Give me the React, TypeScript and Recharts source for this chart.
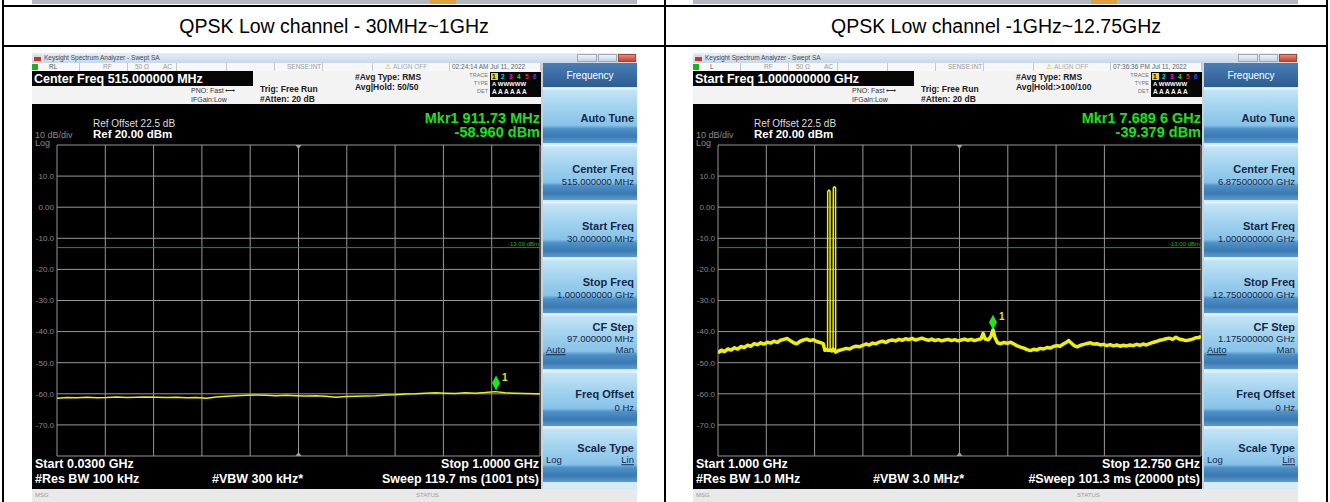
import React from 'react';
import { LineChart, Line, XAxis, YAxis, CartesianGrid, ReferenceLine, ReferenceDot } from 'recharts';

// ---- data ----
const lowFreqMHz = [
  30, 50, 70, 90, 110, 130, 150, 170, 190, 210, 230, 250, 270, 290, 310, 330, 350, 370, 390, 410,
  430, 450, 470, 490, 510, 530, 550, 570, 590, 610, 630, 650, 670, 690, 710, 730, 750, 770, 790, 810,
  830, 850, 870, 890, 910, 930, 950, 970, 990, 1000,
];
const lowLevelDbm = [
  -61.4, -61.2, -61.3, -61.1, -61.3, -61.2, -61.0, -61.2, -61.1, -61.0, -61.1, -61.2, -61.1, -61.3, -61.2, -61.4, -61.0, -60.8, -60.6, -60.5,
  -60.4, -60.5, -60.6, -60.5, -60.6, -60.7, -60.6, -60.8, -61.1, -60.9, -60.8, -60.7, -60.6, -60.4, -60.3, -60.1, -60.0, -59.8, -59.7, -59.8,
  -59.9, -59.7, -59.8, -59.6, -59.3, -59.7, -59.8, -59.9, -60.0, -60.1,
];

const highFreqGHz = [
  1.0, 1.08, 1.16, 1.24, 1.32, 1.4, 1.48, 1.56, 1.64, 1.72, 1.8, 1.88, 1.96, 2.04, 2.12, 2.2, 2.28, 2.36, 2.44, 2.52,
  2.6, 2.68, 2.76, 2.84, 2.92, 3.0, 3.08, 3.16, 3.24, 3.32, 3.4, 3.48, 3.56, 3.6, 3.64, 3.665, 3.668, 3.7, 3.725, 3.728,
  3.77, 3.8, 3.805, 3.83, 3.86, 3.863, 3.9, 3.96, 4.04, 4.12, 4.2, 4.28, 4.36, 4.44, 4.52, 4.6, 4.68, 4.76, 4.84, 4.92,
  5.0, 5.08, 5.16, 5.24, 5.32, 5.4, 5.48, 5.56, 5.64, 5.72, 5.8, 5.88, 5.96, 6.04, 6.12, 6.2, 6.28, 6.36, 6.44, 6.52,
  6.6, 6.68, 6.76, 6.84, 6.92, 7.0, 7.08, 7.16, 7.24, 7.32, 7.4, 7.45, 7.5, 7.58, 7.64, 7.69, 7.74, 7.8, 7.88, 7.96,
  8.04, 8.12, 8.2, 8.28, 8.36, 8.44, 8.52, 8.6, 8.68, 8.76, 8.84, 8.92, 9.0, 9.08, 9.16, 9.24, 9.32, 9.4, 9.48, 9.53,
  9.58, 9.66, 9.74, 9.82, 9.9, 9.98, 10.06, 10.14, 10.22, 10.3, 10.38, 10.46, 10.54, 10.62, 10.7, 10.78, 10.86, 10.94, 11.02, 11.1,
  11.18, 11.26, 11.34, 11.42, 11.5, 11.58, 11.66, 11.74, 11.82, 11.9, 11.98, 12.06, 12.14, 12.22, 12.3, 12.38, 12.46, 12.54, 12.62, 12.7,
  12.75,
];
const highLevelDbm = [
  -46.8, -46.0, -46.4, -45.6, -45.9, -45.2, -45.6, -44.8, -45.1, -44.4, -44.7, -43.9, -44.2, -43.6, -44.0, -43.4, -43.7, -43.1, -43.5, -42.8,
  -42.5, -42.2, -42.9, -43.6, -43.9, -43.1, -42.7, -42.4, -42.9, -42.6, -43.2, -43.5, -43.9, -46.0, -45.8, -46.0, 5.0, 5.5, 5.2, -45.9,
  -46.2, -45.6, 6.2, 6.6, 6.3, -46.6, -46.3, -46.0, -45.7, -45.4, -45.6, -45.0, -44.7, -44.9, -44.4, -44.0, -44.3, -43.7, -43.9, -43.4,
  -43.1, -43.5, -42.9, -42.7, -43.0, -42.5, -42.8, -42.3, -42.6, -42.2, -42.7, -42.4, -42.1, -42.5, -42.8, -42.4, -42.9, -42.6, -43.0, -42.7,
  -42.5, -42.9, -42.6, -43.0, -42.7, -42.4, -42.8, -42.5, -42.9, -42.6, -42.3, -40.6, -42.4, -42.6, -41.5, -39.4, -42.0, -43.6, -43.9, -43.5,
  -43.8, -43.4, -44.0, -44.6, -45.0, -45.3, -45.8, -46.1, -45.7, -45.9, -45.4, -45.6, -45.1, -45.3, -44.8, -44.5, -44.7, -44.0, -43.4, -42.9,
  -43.5, -44.5, -44.9, -44.4, -44.1, -43.8, -43.6, -44.0, -43.9, -44.3, -44.1, -44.5, -44.2, -44.6, -44.3, -44.7, -44.4, -44.6, -44.3, -44.5,
  -44.1, -44.4, -44.0, -44.3, -43.9, -43.5, -43.2, -42.8, -42.6, -42.3, -42.1, -42.5, -41.8, -42.4, -42.6, -42.9, -42.7, -42.4, -42.0, -41.9,
  -41.5,
];

const levelTicks = [20, 10, 0, -10, -20, -30, -40, -50, -60, -70, -80];
const lowFreqTicks = [30, 127, 224, 321, 418, 515, 612, 709, 806, 903, 1000];
const highFreqTicks = [1, 2.175, 3.35, 4.525, 5.7, 6.875, 8.05, 9.225, 10.4, 11.575, 12.75];
const limitDbm = -13;
const lowMarker = { freq: 911.73, level: -58.96 };
const highMarker = { freq: 7.6896, level: -39.379 };
const burstBandGHz = [3.6, 3.9];

// noise floor drawn thick; the narrow carrier bursts drawn thin like the analyzer does
const toRows = (freqs: number[], levels: number[], band?: number[]) =>
  freqs.map((f, i) => ({
    freq: f,
    floor: levels[i] > -30 ? null : levels[i],
    burst: band && f >= band[0] && f <= band[1] ? levels[i] : null,
  }));
const lowTrace = toRows(lowFreqMHz, lowLevelDbm);
const highTrace = toRows(highFreqGHz, highLevelDbm, burstBandGHz);

const FONT = '"Liberation Sans", Arial, sans-serif';

const lowScreen = {
  mode: 'RL',
  clock: '02:24:14 AM Jul 11, 2022',
  banner: 'Center Freq 515.000000 MHz',
  hold: 'Avg|Hold: 50/50',
  mkrFreq: 'Mkr1 911.73 MHz',
  mkrLevel: '-58.960 dBm',
  center: '515.000000 MHz',
  start: '30.000000 MHz',
  stop: '1.000000000 GHz',
  step: '97.000000 MHz',
  startText: 'Start 0.0300 GHz',
  rbw: '#Res BW 100 kHz',
  vbw: '#VBW 300 kHz*',
  stopText: 'Stop 1.0000 GHz',
  sweep: 'Sweep  119.7 ms (1001 pts)',
};
const highScreen = {
  mode: 'L',
  clock: '07:36:36 PM Jul 11, 2022',
  banner: 'Start Freq 1.000000000 GHz',
  hold: 'Avg|Hold:>100/100',
  mkrFreq: 'Mkr1 7.689 6 GHz',
  mkrLevel: '-39.379 dBm',
  center: '6.875000000 GHz',
  start: '1.000000000 GHz',
  stop: '12.750000000 GHz',
  step: '1.175000000 GHz',
  startText: 'Start 1.000 GHz',
  rbw: '#Res BW 1.0 MHz',
  vbw: '#VBW 3.0 MHz*',
  stopText: 'Stop 12.750 GHz',
  sweep: '#Sweep  101.3 ms (20000 pts)',
};

type TProps = { x: number; y: number; s: number; c?: string; b?: boolean; a?: 'left' | 'right' | 'center'; u?: boolean; children: React.ReactNode };
const T = ({ x, y, s, c = '#000', b, a = 'left', u, children }: TProps) => (
  <div
    style={{
      position: 'absolute',
      left: x,
      top: y,
      fontSize: s,
      lineHeight: 1,
      color: c,
      fontWeight: b ? 700 : 400,
      whiteSpace: 'nowrap',
      textDecoration: u ? 'underline' : 'none',
      transform: `translate(${a === 'right' ? '-100%' : a === 'center' ? '-50%' : '0'}, -50%)`,
    }}
  >
    {children}
  </div>
);

const Box = ({ x, y, w, h, bg, style }: { x: number; y: number; w: number; h: number; bg: string; style?: React.CSSProperties }) => (
  <div style={{ position: 'absolute', left: x, top: y, width: w, height: h, background: bg, ...style }} />
);

const levelFmt = (v: number) => (v === 20 || v === -80 ? '' : v === 0 ? '0.00' : v.toFixed(1));

const MarkerShape = (p: any) => {
  const { cx, cy } = p;
  return (
    <g>
      <polygon points={`${cx},${cy - 15} ${cx + 4},${cy - 7.5} ${cx},${cy} ${cx - 4},${cy - 7.5}`} fill="#1ee61e" />
      <text x={cx + 6} y={cy - 10} fill="#e2e23c" fontSize={10} fontWeight={700} fontFamily={FONT}>1</text>
    </g>
  );
};
const TopTick = (p: any) => <polygon points={`${p.cx - 3},${p.cy} ${p.cx + 3},${p.cy} ${p.cx},${p.cy + 4}`} fill="#a0a0a0" />;
const BottomTick = (p: any) => <polygon points={`${p.cx - 3},${p.cy} ${p.cx + 3},${p.cy} ${p.cx},${p.cy - 4}`} fill="#a0a0a0" />;

function Spectrum({ data, domain, ticks, marker, stroke, color }: any) {
  const mid = ticks[5];
  return (
    <LineChart width={509} height={320} data={data} margin={{ top: 5, right: 1, bottom: 4, left: 0 }}>
      <CartesianGrid stroke="#979797" strokeWidth={1} />
      <XAxis type="number" dataKey="freq" domain={domain} ticks={ticks} hide allowDataOverflow />
      <YAxis
        type="number"
        domain={[-80, 20]}
        ticks={levelTicks}
        interval={0}
        width={25}
        tickSize={0}
        tickMargin={3}
        axisLine={false}
        tickLine={false}
        tickFormatter={levelFmt}
        tick={{ fill: '#8a8a8a', fontSize: 8, fontFamily: FONT }}
        allowDataOverflow
      />
      <ReferenceLine
        y={limitDbm}
        stroke="#1d9a1d"
        strokeWidth={1}
        label={(lp: any) => (
          <text x={lp.viewBox.x + lp.viewBox.width - 1} y={lp.viewBox.y - 1.5} textAnchor="end" fill="#22b022" fontSize={6} fontFamily={FONT}>
            -13.00 dBm
          </text>
        )}
      />
      <ReferenceDot x={mid} y={20} shape={TopTick} />
      <ReferenceDot x={mid} y={-80} shape={BottomTick} />
      <Line type="linear" dataKey="burst" stroke={color} strokeWidth={1.5} dot={false} isAnimationActive={false} />
      <Line type="linear" dataKey="floor" stroke={color} strokeWidth={stroke} strokeLinejoin="round" dot={false} connectNulls isAnimationActive={false} />
      <ReferenceDot x={marker.freq} y={marker.level} shape={MarkerShape} />
    </LineChart>
  );
}

const buttonTops = [25, 82, 139, 195, 251, 308, 364];
const btnBg =
  'linear-gradient(180deg, #eef8fd 0%, #c2e4f6 5%, #a3d3ef 35%, #86c2e8 68%, #4f90c7 74%, #3a7ab3 88%, #5d9bcd 100%)';

function Panel({ cfg }: any) {
  const navy = '#14284a';
  const btn = (i: number, children: React.ReactNode) => (
    <div key={i} style={{ position: 'absolute', left: 0, top: buttonTops[i], width: 94, height: 55, background: btnBg }}>
      {children}
    </div>
  );
  return (
    <div style={{ position: 'absolute', left: 511, top: 10, width: 94, height: 426, background: '#d7ebf6' }}>
      <div style={{ position: 'absolute', left: 0, top: 0, width: 94, height: 24, background: 'linear-gradient(180deg,#4a7db4,#2c5d93)' }} />
      <T x={47} y={13} s={10} c="#ffffff" a="center">Frequency</T>
      {btn(0, <T x={91} y={30} s={11} c={navy} b a="right">Auto Tune</T>)}
      {btn(1, <>
        <T x={91} y={24} s={11} c={navy} b a="right">Center Freq</T>
        <T x={91} y={37} s={9.5} c={navy} a="right">{cfg.center}</T>
      </>)}
      {btn(2, <>
        <T x={91} y={24} s={11} c={navy} b a="right">Start Freq</T>
        <T x={91} y={37} s={9.5} c={navy} a="right">{cfg.start}</T>
      </>)}
      {btn(3, <>
        <T x={91} y={24} s={11} c={navy} b a="right">Stop Freq</T>
        <T x={91} y={37} s={9.5} c={navy} a="right">{cfg.stop}</T>
      </>)}
      {btn(4, <>
        <T x={91} y={13} s={11} c={navy} b a="right">CF Step</T>
        <T x={91} y={25} s={9.5} c={navy} a="right">{cfg.step}</T>
        <T x={3} y={36} s={9.5} c={navy} u>Auto</T>
        <T x={91} y={36} s={9.5} c={navy} a="right">Man</T>
      </>)}
      {btn(5, <>
        <T x={91} y={23} s={11} c={navy} b a="right">Freq Offset</T>
        <T x={91} y={37} s={9.5} c={navy} a="right">0 Hz</T>
      </>)}
      {btn(6, <>
        <T x={91} y={21} s={11} c={navy} b a="right">Scale Type</T>
        <T x={3} y={33} s={9.5} c={navy}>Log</T>
        <T x={91} y={33} s={9.5} c={navy} a="right" u>Lin</T>
      </>)}
    </div>
  );
}

const statusCells = [0, 48, 96, 145, 195, 243, 291, 341, 418, 509];

function Screen({ left, cfg, data, domain, ticks, marker, stroke }: any) {
  return (
    <div style={{ position: 'absolute', left, top: 53, width: 605, height: 449, background: '#c9d3dc', fontFamily: FONT, overflow: 'hidden' }}>
      {/* title bar */}
      <Box x={0} y={0} w={605} h={10} bg="linear-gradient(180deg,#e6eef6,#c9d8e7)" />
      <Box x={2} y={2} w={7} h={6} bg="linear-gradient(180deg,#d9d9d9 0%,#d9d9d9 40%,#c0392b 41%,#c0392b 100%)" />
      <T x={12} y={5} s={6.5} c="#3f4a5a">Keysight Spectrum Analyzer - Swept SA</T>
      <Box x={545} y={1} w={20} h={8} bg="linear-gradient(180deg,#eef3f8,#c7d4e2)" style={{ border: '1px solid #9aaabb', boxSizing: 'border-box' }} />
      <Box x={566} y={1} w={19} h={8} bg="linear-gradient(180deg,#eef3f8,#c7d4e2)" style={{ border: '1px solid #9aaabb', boxSizing: 'border-box' }} />
      <Box x={586} y={1} w={18} h={8} bg="linear-gradient(180deg,#f08a75,#c8402c)" style={{ border: '1px solid #9a4a3a', boxSizing: 'border-box' }} />

      {/* status row */}
      <Box x={0} y={10} w={509} h={8} bg="#f7f7f7" />
      {statusCells.slice(0, -1).map((cx, i) => (
        <Box key={i} x={cx} y={10} w={statusCells[i + 1] - cx} h={8} bg="transparent" style={{ borderRight: '1px solid #c8c8c8', boxSizing: 'border-box' }} />
      ))}
      <Box x={0} y={11} w={6} h={6} bg="#19b419" />
      <T x={17} y={14} s={6.5} c="#555">{cfg.mode}</T>
      <T x={71} y={14} s={6.5} c="#999">RF</T>
      <T x={103} y={14} s={6.5} c="#999">50 Ω</T>
      <T x={131} y={14} s={6.5} c="#999">AC</T>
      <T x={255} y={14} s={6.5} c="#999">SENSE:INT</T>
      <T x={353} y={14} s={6.5} c="#c9a000">⚠</T>
      <T x={361} y={14} s={6.5} c="#aaa">ALIGN OFF</T>
      <T x={420} y={14} s={6.5} c="#666">{cfg.clock}</T>

      {/* settings area */}
      <Box x={0} y={18} w={509} h={33} bg="#f3f3f3" />
      <Box x={0} y={18} w={221} h={15} bg="#050505" />
      <T x={2} y={26} s={12.5} c="#ffffff" b>{cfg.banner}</T>
      <T x={159} y={37} s={7} c="#333">PNO: Fast</T>
      <T x={193} y={37} s={7} c="#333">⟷</T>
      <T x={159} y={46} s={7} c="#333">IFGain:Low</T>
      <T x={228} y={36} s={8.5} c="#222" b>Trig: Free Run</T>
      <T x={228} y={46} s={8.5} c="#222" b>#Atten: 20 dB</T>
      <T x={323} y={24} s={8.5} c="#222" b>#Avg Type: RMS</T>
      <T x={323} y={34} s={8.5} c="#222" b>{cfg.hold}</T>
      <T x={456} y={23} s={5.5} c="#777" a="right">TRACE</T>
      <T x={456} y={31} s={5.5} c="#777" a="right">TYPE</T>
      <T x={456} y={39} s={5.5} c="#777" a="right">DET</T>
      <Box x={458} y={19} w={51} h={25} bg="#050505" />
      <Box x={459} y={20} w={7} h={7} bg="#e8d81e" />
      <T x={460} y={24} s={6.5} c="#000" b>1</T>
      <T x={469} y={24} s={6.5} c="#22d0e8" b>2</T>
      <T x={477} y={24} s={6.5} c="#e022d8" b>3</T>
      <T x={485} y={24} s={6.5} c="#33dd33" b>4</T>
      <T x={493} y={24} s={6.5} c="#e03333" b>5</T>
      <T x={501} y={24} s={6.5} c="#4a4ae8" b>6</T>
      <T x={460} y={31} s={6} c="#ffffff" b>A WWWWW</T>
      <T x={460} y={39} s={6.5} c="#ffffff" b>A A A A A A</T>

      {/* display */}
      <Box x={0} y={51} w={509} h={385} bg="#000000" />
      <T x={61} y={71} s={10} c="#dcdcdc">Ref Offset 22.5 dB</T>
      <T x={3} y={82} s={9} c="#8a8a8a">10 dB/div</T>
      <T x={61} y={82} s={11.5} c="#ffffff" b>Ref 20.00 dBm</T>
      <T x={3} y={90} s={9} c="#8a8a8a">Log</T>
      <T x={508} y={65} s={14.5} c="#1fe01f" b a="right">{cfg.mkrFreq}</T>
      <T x={508} y={79} s={14.5} c="#1fe01f" b a="right">{cfg.mkrLevel}</T>
      <div style={{ position: 'absolute', left: 0, top: 87 }}>
        <Spectrum data={data} domain={domain} ticks={ticks} marker={marker} stroke={stroke} color="#eeee10" />
      </div>
      <T x={3} y={411} s={12.5} c="#ffffff" b>{cfg.startText}</T>
      <T x={3} y={426} s={12.5} c="#ffffff" b>{cfg.rbw}</T>
      <T x={180} y={426} s={12.5} c="#ffffff" b>{cfg.vbw}</T>
      <T x={507} y={411} s={12.5} c="#ffffff" b a="right">{cfg.stopText}</T>
      <T x={507} y={426} s={12.5} c="#ffffff" b a="right">{cfg.sweep}</T>

      <Panel cfg={cfg} />

      {/* message bar */}
      <Box x={0} y={436} w={605} h={13} bg="#e9e9e9" />
      <T x={3} y={442} s={6} c="#999">MSG</T>
      <T x={384} y={442} s={6} c="#999">STATUS</T>
    </div>
  );
}

export default function App() {
  const line = '#000000';
  return (
    <div style={{ position: 'fixed', left: 0, top: 0, width: 1330, height: 502, background: '#ffffff', overflow: 'hidden', fontFamily: FONT }}>
      {/* sliver of the row above */}
      <Box x={32} y={0} w={605} h={4} bg="#b3b8be" />
      <Box x={693} y={0} w={605} h={4} bg="#b3b8be" />
      <Box x={430} y={0} w={26} h={4} bg="#e0a040" />
      <Box x={1091} y={0} w={26} h={4} bg="#e0a040" />
      {/* table rules */}
      <Box x={2} y={5} w={1326} h={2} bg={line} />
      <Box x={2} y={45} w={1326} h={2} bg={line} />
      <Box x={2} y={0} w={2} h={502} bg={line} />
      <Box x={664} y={0} w={2} h={502} bg={line} />
      <Box x={1326} y={0} w={2} h={502} bg={line} />
      <T x={334} y={27} s={19.5} c="#000" a="center">QPSK Low channel - 30MHz~1GHz</T>
      <T x={996} y={27} s={19.5} c="#000" a="center">QPSK Low channel -1GHz~12.75GHz</T>
      <Screen left={32} cfg={lowScreen} data={lowTrace} domain={[30, 1000]} ticks={lowFreqTicks} marker={lowMarker} stroke={1.5} />
      <Screen left={693} cfg={highScreen} data={highTrace} domain={[1, 12.75]} ticks={highFreqTicks} marker={highMarker} stroke={3.5} />
    </div>
  );
}
